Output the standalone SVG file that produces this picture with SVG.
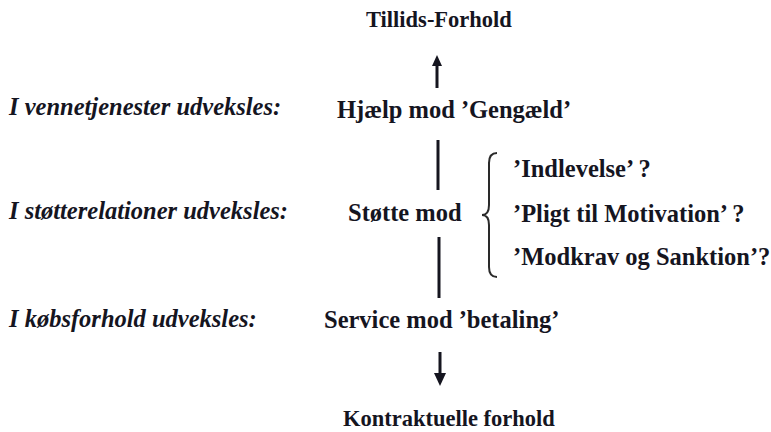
<svg xmlns="http://www.w3.org/2000/svg" width="771" height="432" viewBox="0 0 771 432">
<style>
text{font-family:"Liberation Serif","Times New Roman",serif;font-weight:bold;fill:#15151f}
.m{font-size:24.5px}
.t{font-size:22.5px}
.i{font-style:italic;font-size:24.5px}
.ln{stroke:#15151f;stroke-width:3;fill:none}
.br{stroke:#2a2a2a;stroke-width:2;fill:none}
</style>
<rect width="771" height="432" fill="#ffffff"/>
<g id="labels">
<text class="i" x="9" y="115">I vennetjenester udveksles:</text>
<text class="i" x="9" y="219">I støtterelationer udveksles:</text>
<text class="i" x="9" y="327">I købsforhold udveksles:</text>
</g>
<g id="node-tillid"><text class="t" x="366" y="27">Tillids-Forhold</text></g>
<g id="node-hjaelp"><text class="m" x="337" y="118">Hjælp mod ’Gengæld’</text></g>
<g id="node-stoette"><text class="m" x="348" y="221">Støtte mod</text></g>
<g id="node-options">
<path class="br" d="M497,153 Q489,153 489,163 L489,205 Q489,215 482,215 Q489,215 489,225 L489,267 Q489,277 497,277"/>
<text class="m" x="513" y="177">’Indlevelse’ ?</text>
<text class="m" x="513" y="222">’Pligt til Motivation’ ?</text>
<text class="m" x="513" y="265">’Modkrav og Sanktion’?</text>
</g>
<g id="node-service"><text class="m" x="324" y="328">Service mod ’betaling’</text></g>
<g id="node-kontrakt"><text class="t" x="343" y="426">Kontraktuelle forhold</text></g>
<g id="connectors">
<line class="ln" x1="437" y1="64" x2="437" y2="88"/>
<polygon points="437,55 432,66 442,66" fill="#15151f"/>
<line class="ln" x1="438" y1="140" x2="438" y2="190"/>
<line class="ln" x1="439" y1="237" x2="439" y2="298"/>
<line class="ln" x1="440" y1="352" x2="440" y2="375"/>
<polygon points="440,386 434,373 446,373" fill="#15151f"/>
</g>
</svg>
